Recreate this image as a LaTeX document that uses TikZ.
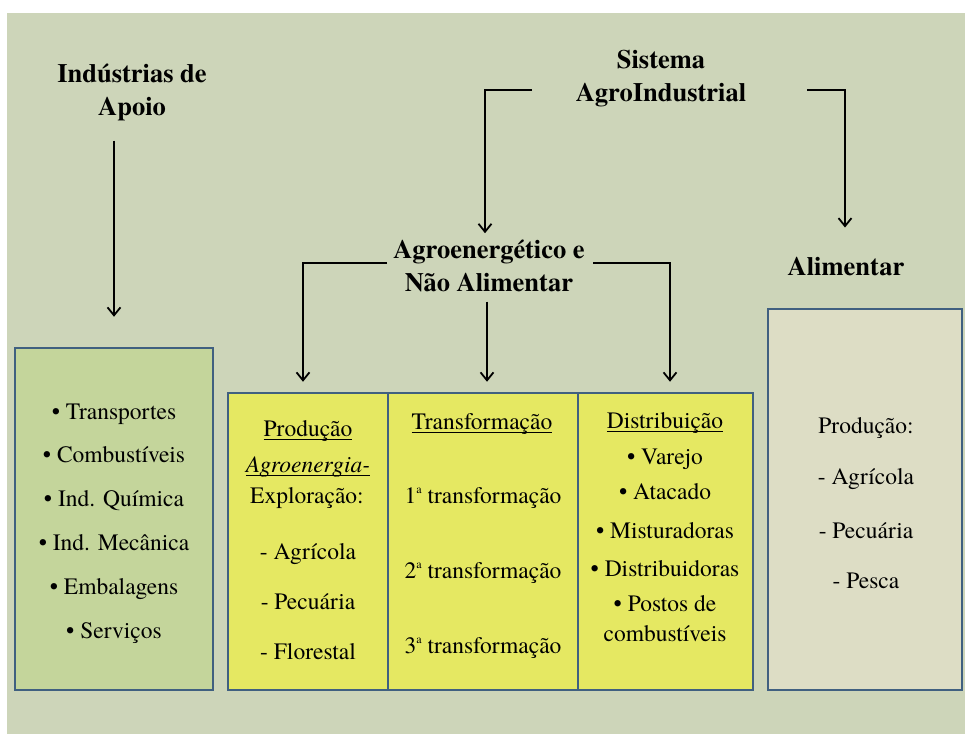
\documentclass[tikz,border=0pt]{standalone}
\usepackage{fontspec}
\setmainfont{texgyretermes}[Extension=.otf, UprightFont=*-regular, BoldFont=*-bold, ItalicFont=*-italic, BoldItalicFont=*-bolditalic]
\usetikzlibrary{arrows.meta}

\definecolor{bgsage}{HTML}{CDD5B9}
\definecolor{apoiofill}{HTML}{C4D59B}
\definecolor{agrofill}{HTML}{E5E862}
\definecolor{alimfill}{HTML}{DDDDC5}
\definecolor{boxline}{HTML}{406080}

% underline drawn at a fixed distance below the baseline
\newcommand\undl[1]{\setbox0=\hbox{#1}\rlap{\rule[-3.5pt]{\wd0}{1pt}}\box0}
% small raised ordinal letter
\newcommand\ordsup{\raisebox{0.42em}{\fontsize{12}{12}\selectfont a}}

\begin{document}
\begin{tikzpicture}[x=1pt,y=-1pt,
  title/.style={font=\fontsize{26.5}{33}\selectfont\bfseries, align=center, anchor=base, inner sep=0pt},
  body/.style={font=\fontsize{23.5}{28}\selectfont, anchor=base, inner sep=0pt},
  panel/.style={draw=boxline, line width=2.5pt, inner sep=0pt},
  conn/.style={line width=1.8pt, -{Straight Barb[length=8pt,width=13pt]}}]

\useasboundingbox (0,0) rectangle (965,734);
\fill[white] (0,0) rectangle (965,734);
\fill[bgsage] (7,13) rectangle (965,734);

% panels
\node[panel, fill=apoiofill, minimum width=198pt, minimum height=342pt] (lbox) at (114,519) {};
\node[panel, fill=agrofill, minimum width=160pt, minimum height=297pt] (c1) at (308,541.5) {};
\node[panel, fill=agrofill, minimum width=190pt, minimum height=297pt] (c2) at (483,541.5) {};
\node[panel, fill=agrofill, minimum width=175pt, minimum height=297pt] (c3) at (665.5,541.5) {};
\node[panel, fill=alimfill, minimum width=194pt, minimum height=381pt] (rbox) at (865,499.5) {};

% headings (base = baseline of the last line)
\node[title] (ind) at (132,115) {Indústrias de\\Apoio};
\node[title] (sis) at (661,101) {Sistema\\AgroIndustrial};
\node[title] (agro) at (489,291) {Agroenergético e\\Não Alimentar};
\node[title] (ali) at (846,275) {Alimentar};

% connectors
\coordinate (sisL) at (532,90);
\coordinate (sisR) at (807,90);
\coordinate (agroL) at (387,263);
\coordinate (agroR) at (593,263);

\draw[conn, shorten <=20pt, shorten >=30pt] (ind.south -| lbox.north) -- (lbox.north);
\draw[conn, shorten >=6pt] (sisL) -| ([xshift=-4pt]agro.north);
\draw[conn, shorten >=29pt] (sisR) -| ([xshift=-1pt]ali.north);
\draw[conn, shorten >=10pt] (agroL) -| ([xshift=-5pt]c1.north);
\draw[conn, shorten <=10pt, shorten >=10pt] ([xshift=-2pt]agro.south) -- ([xshift=-2pt]agro.south |- c2.north);
\draw[conn, shorten >=10pt] (agroR) -| ([xshift=4.5pt]c3.north);

% support industries
\foreach \t [count=\i] in {Transportes,Combustíveis,Ind. Química,Ind. Mecânica,Embalagens,Serviços}
  \node[body] (ap\i) at (114,375.2+43.8*\i) {• \t};

% production column
\node[body] (p1) at (308,436) {\undl{Produção}};
\node[body] (p2) at (308,472) {\undl{\itshape Agroenergia-}};
\node[body] (p3) at (307,503) {Exploração:};
\node[body] (p4) at (308,559) {- Agrícola};
\node[body] (p5) at (308,609) {- Pecuária};
\node[body] (p6) at (308,659) {- Florestal};

% transformation column
\node[body] (t0) at (482,429) {\undl{Transformação}};
\foreach \n/\y in {1/503,2/578,3/653}
  \node[body] (t\n) at (483,\y) {\n\ordsup\ transformação};

% distribution column
\node[body] (d0) at (665,428) {\undl{Distribuição}};
\node[body] (d1) at (665,464) {• Varejo};
\node[body] (d2) at (665,499) {• Atacado};
\node[body] (d3) at (665,538) {• Misturadoras};
\node[body] (d4) at (665,576) {• Distribuidoras};
\node[body] (d5) at (665,611) {• Postos de};
\node[body] (d6) at (665,641) {combustíveis};

% food production
\node[body] (r1) at (866,433) {Produção:};
\node[body] (r2) at (866,484) {- Agrícola};
\node[body] (r3) at (866,538) {- Pecuária};
\node[body] (r4) at (866,588) {- Pesca};
\end{tikzpicture}
\end{document}
